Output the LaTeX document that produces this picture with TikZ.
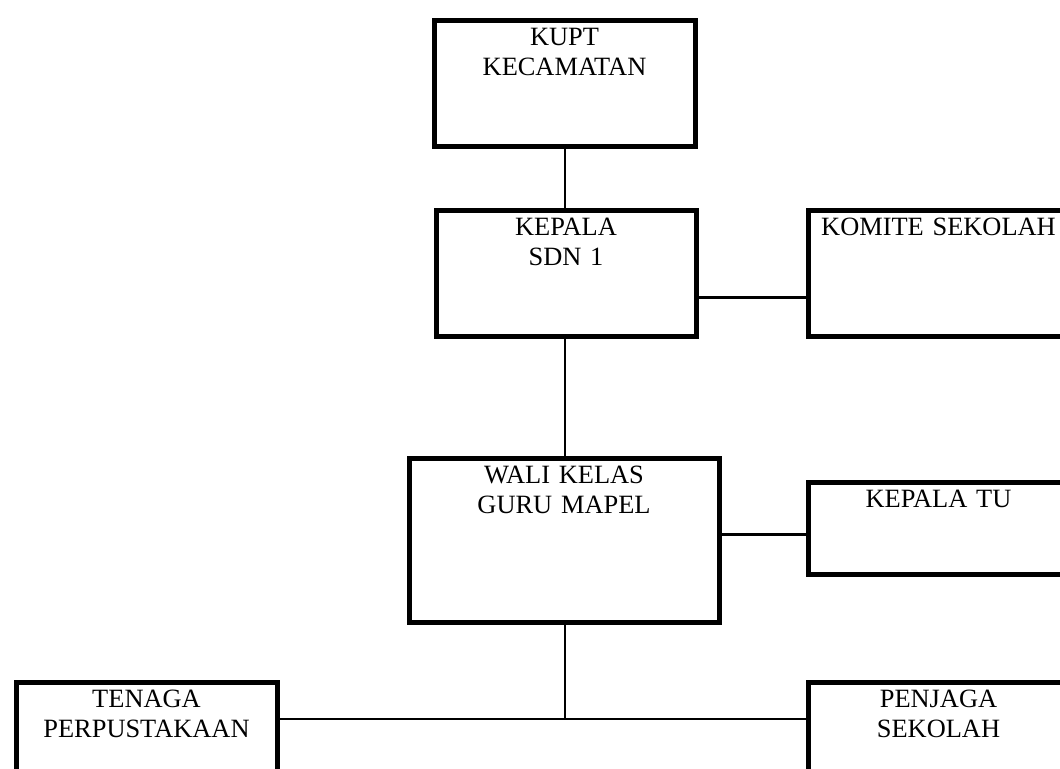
\documentclass[tikz,border=0pt]{standalone}
\usepackage{fontspec}
\setmainfont{Liberation Serif}
\usepackage{tikz}

\begin{document}
\begin{tikzpicture}
  [
    x = 0.5pt, y = -0.5pt,
    unit/.style = {draw, rectangle, line width = 2.5pt, anchor = north west,
                   inner xsep = 0pt, inner ysep = 3.5pt, text height = 9pt,
                   align = center, font = \fontsize{13.2}{15}\selectfont},
    link/.style = {line width = 1.3pt},
  ]
  \useasboundingbox (0,0) rectangle (1060,769);
  \clip (0,0) rectangle (1060,769);

  \node[unit, text width = 130.5pt, text depth = 47pt] (kupt) at (431.5,18.5) {KUPT\\KECAMATAN};
  \node[unit, text width = 130pt, text depth = 47pt] (kepala) at (433.5,208.5) {KEPALA\\SDN 1};
  \node[unit, text width = 130.5pt, text depth = 47pt] (komite) at (805.5,208.5) {KOMITE SEKOLAH};

  \node[unit, text width = 155pt, text depth = 66pt] (wali) at (406.5,456.5) {WALI KELAS\\GURU MAPEL};
  \node[unit, text width = 130.5pt, text depth = 30pt] (tu) at (805.5,480.5) {KEPALA TU};

  \node[unit, text width = 130.5pt, text depth = 54pt] (tenaga) at (13.5,679.5) {TENAGA\\PERPUSTAKAAN};
  \node[unit, text width = 130.5pt, text depth = 54pt] (penjaga) at (805.5,679.5) {PENJAGA\\SEKOLAH};

  \coordinate (junction) at (565,719);
  \coordinate (tu_in) at ([yshift = -2.75pt]tu.west);

  \draw[link] (kupt.south -| junction) -- (kepala.north -| junction);
  \draw[link] (kepala.south -| junction) -- (wali.north -| junction);
  \draw[link] (wali.south -| junction) -- (junction);
  \draw[link] ([yshift = -11.75pt]kepala.east) -- ([yshift = -11.75pt]komite.west);
  \draw[link] (wali.east |- tu_in) -- (tu_in);
  \draw[link] (tenaga.east |- junction) -- (penjaga.west |- junction);
\end{tikzpicture}
\end{document}
